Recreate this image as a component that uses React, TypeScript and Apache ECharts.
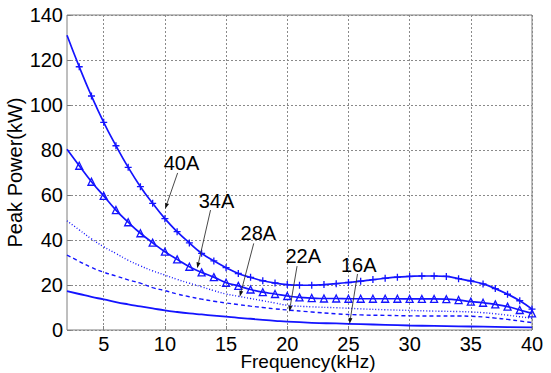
import React, { useEffect, useRef } from "react";
import * as echarts from "echarts";

// Frequency (kHz) sample points for the marked curves
const freqMarked = [2, 3, 4, 5, 6, 7, 8, 9, 10, 11, 12, 13, 14, 15, 16, 17, 18, 19, 20, 21, 22, 23, 24, 25, 26, 27, 28, 29, 30, 31, 32, 33, 34, 35, 36, 37, 38, 39, 40];
const power40A = [131, 117, 104, 92.3, 81.9, 72.3, 63.7, 56.3, 49.5, 43.7, 38.7, 34.1, 30.7, 27.7, 25.1, 23.4, 21.9, 20.9, 20.2, 19.9, 19.9, 20.2, 20.6, 21.1, 21.7, 22.4, 23.0, 23.5, 23.8, 24.0, 24.0, 23.8, 22.8, 21.8, 20.5, 18.4, 15.9, 13.0, 9.3];
const power34A = [80.3, 73, 65.9, 59.6, 53.3, 47.9, 43, 38.8, 34.8, 31.4, 28.1, 25.6, 23.5, 21.0, 19.6, 18.0, 16.8, 16.0, 15.1, 14.5, 14.2, 14.0, 14.0, 13.9, 13.9, 13.9, 13.9, 13.9, 13.8, 13.8, 13.8, 13.7, 13.3, 12.6, 12.1, 11.4, 10.4, 8.9, 7.4];

const freq28A = [2, 3, 4, 5, 6, 7, 8, 9, 10, 11, 12, 13, 14, 15, 16, 17, 18, 19, 20, 22, 24, 26, 28, 30, 32, 34, 35, 36, 37, 38, 39, 40];
const power28A = [48.5, 44.5, 40.5, 37, 34, 31, 28.5, 26.3, 24.4, 22.5, 20.8, 19.2, 17.5, 16, 15, 14, 13, 12, 11, 10.3, 9.9, 9.4, 9.0, 8.7, 8.4, 8.2, 8.0, 7.7, 7.2, 6.6, 5.9, 5.2];

const freq22A = [2, 3, 4, 5, 6, 7, 8, 9, 10, 11, 12, 13, 14, 15, 16, 17, 18, 19, 20, 22, 24, 26, 28, 30, 32, 34, 35, 36, 37, 38, 39, 40];
const power22A = [33.3, 30.5, 27.8, 25.7, 24, 22.3, 20.8, 18.8, 17.5, 16, 14.8, 13.7, 12.8, 12, 11.3, 10.6, 10, 9.4, 8.9, 8, 7.2, 6.7, 6.5, 6.3, 6.2, 6.2, 6.1, 5.8, 5.3, 4.7, 4.0, 3.3];

const freq16A = [2, 3, 4, 5, 6, 7, 8, 9, 10, 11, 12, 13, 14, 15, 16, 17, 18, 19, 20, 22, 24, 26, 28, 30, 32, 34, 36, 38, 40];
const power16A = [17.3, 16, 14.7, 13.6, 12.4, 11.4, 10.5, 9.6, 8.7, 8.0, 7.4, 6.9, 6.4, 5.9, 5.4, 5.0, 4.5, 4.1, 3.7, 3.2, 2.9, 2.6, 2.3, 2.0, 1.8, 1.6, 1.5, 1.3, 1.2];

const xTickValues = [5, 10, 15, 20, 25, 30, 35, 40];
const yTicks = [0, 20, 40, 60, 80, 100, 120, 140];

const labels = ["40A", "34A", "28A", "22A", "16A"];
// annotation anchors in data coordinates: label centre, arrow tail, arrow head
const labelPos = [[11.36, 74.2], [14.22, 57.3], [17.64, 43.1], [21.31, 32.9], [25.84, 29.1]];
const arrowFrom = [[11.04, 69.8], [13.73, 53.3], [17.26, 38.5], [20.8, 28.4], [25.74, 24.9]];
const arrowTo = [[10.02, 53.8], [12.64, 27.4], [16.12, 14.8], [20.17, 8.1], [25.09, 2.7]];

const FONT = '"Liberation Sans", Arial, sans-serif';
const FS = 20;
const BLUE = "#1414ff";

function zip(xs: number[], ys: number[]) {
  return xs.map((x, i) => [x, ys[i]]);
}

export default function App() {
  const ref = useRef<HTMLDivElement>(null);
  useEffect(() => {
    if (!ref.current) return;
    const chart = echarts.init(ref.current, undefined, { renderer: "svg" });
    const plusPath = "path://M5,0L5,10M0,5L10,5";
    const marked = (ys: number[]) =>
      zip(freqMarked, ys).map((p, i) => (i === 0 ? { value: p, symbol: "none" } : { value: p }));
    chart.setOption({
      animation: false,
      backgroundColor: "#fff",
      grid: {
        left: 67,
        right: 19,
        top: 15,
        bottom: 43,
        outerBoundsMode: "none",
        containLabel: false,
        show: true,
        borderColor: "#7f7f7f",
        borderWidth: 1,
        backgroundColor: "transparent",
      },
      xAxis: {
        type: "value",
        min: 2,
        max: 40,
        name: "Frequency(kHz)",
        nameLocation: "middle",
        nameGap: 23,
        nameMoveOverlap: false,
        nameTextStyle: { fontFamily: FONT, fontSize: 19, color: "#000", lineHeight: 17, padding: [0, 0, 0, 17] },
        axisLine: { show: false },
        axisTick: { show: true, inside: true, length: 4, lineStyle: { color: "#7f7f7f" }, customValues: xTickValues },
        axisLabel: { fontFamily: FONT, fontSize: FS, color: "#000", margin: 6, lineHeight: 16, customValues: xTickValues },
        splitLine: { show: true, lineStyle: { color: "#8a8a8a", type: [2, 2], width: 1 } },
      },
      yAxis: {
        type: "value",
        min: 0,
        max: 140,
        interval: 20,
        name: "Peak Power(kW)",
        nameLocation: "middle",
        nameGap: 42,
        nameMoveOverlap: false,
        nameTextStyle: { fontFamily: FONT, fontSize: FS, color: "#000", lineHeight: 20 },
        axisLine: { show: false },
        axisTick: { show: true, inside: true, length: 4, lineStyle: { color: "#7f7f7f" } },
        axisLabel: { fontFamily: FONT, fontSize: FS, color: "#000", margin: 4, formatter: (v: number) => (yTicks.includes(v) ? String(v) : "") },
        splitLine: { show: true, lineStyle: { color: "#8a8a8a", type: [2, 2], width: 1 } },
      },
      series: [
        {
          name: "40A",
          type: "line",
          smooth: true,
          data: marked(power40A),
          symbol: plusPath,
          symbolSize: 7,
          showAllSymbol: true,
          lineStyle: { color: BLUE, width: 1.7 },
          itemStyle: { color: "rgba(0,0,0,0)", borderColor: BLUE, borderWidth: 1.3 },
        },
        {
          name: "34A",
          type: "line",
          smooth: true,
          data: marked(power34A),
          symbol: "triangle",
          symbolSize: 7,
          showAllSymbol: true,
          lineStyle: { color: BLUE, width: 1.7 },
          itemStyle: { color: "rgba(255,255,255,0)", borderColor: BLUE, borderWidth: 1.3 },
        },
        {
          name: "28A",
          type: "line",
          smooth: true,
          data: zip(freq28A, power28A),
          showSymbol: false,
          lineStyle: { color: BLUE, width: 1.4, type: [1, 2] },
        },
        {
          name: "22A",
          type: "line",
          smooth: true,
          data: zip(freq22A, power22A),
          showSymbol: false,
          lineStyle: { color: BLUE, width: 1.4, type: [4, 3] },
        },
        {
          name: "16A",
          type: "line",
          smooth: true,
          data: zip(freq16A, power16A),
          showSymbol: false,
          lineStyle: { color: BLUE, width: 1.8 },
        },
      ],
    });

    const g: any[] = [];
    labels.forEach((lab, i) => {
      const t = chart.convertToPixel({ gridIndex: 0 }, labelPos[i]) as number[];
      const f = chart.convertToPixel({ gridIndex: 0 }, arrowFrom[i]) as number[];
      const h = chart.convertToPixel({ gridIndex: 0 }, arrowTo[i]) as number[];
      const dx = h[0] - f[0];
      const dy = h[1] - f[1];
      const len = Math.sqrt(dx * dx + dy * dy) || 1;
      const ux = dx / len;
      const uy = dy / len;
      const L = 6;
      const W = 2;
      const bx = h[0] - ux * L;
      const by = h[1] - uy * L;
      g.push({
        type: "text",
        x: t[0],
        y: t[1],
        style: { text: lab, fontSize: FS, fontFamily: FONT, fill: "#000", align: "center", verticalAlign: "middle", textAlign: "center", textVerticalAlign: "middle" },
        z: 10,
      });
      g.push({ type: "line", shape: { x1: f[0], y1: f[1], x2: bx, y2: by }, style: { stroke: "#333", lineWidth: 0.9 }, z: 10 });
      g.push({
        type: "polygon",
        shape: { points: [[h[0], h[1]], [bx - uy * W, by + ux * W], [bx + uy * W, by - ux * W]] },
        style: { fill: "#111" },
        z: 10,
      });
    });
    chart.setOption({ graphic: g });

    return () => chart.dispose();
  }, []);
  return <div ref={ref} style={{ position: "fixed", left: 0, top: 0, width: 551, height: 373, background: "#fff" }} />;
}
